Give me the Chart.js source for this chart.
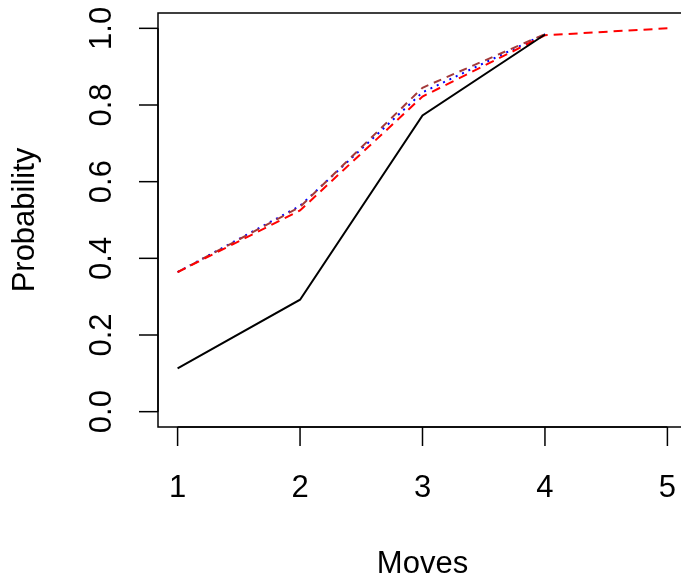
<!DOCTYPE html>
<html>
<head>
<meta charset="utf-8">
<script src="https://cdn.jsdelivr.net/npm/chart.js@4/dist/chart.umd.min.js"></script>
<style>
    html, body { margin: 0; padding: 0; background: #fff; overflow: hidden; }
    #wrap { width: 700px; height: 579px; }
</style>
</head>
<body>
<div id="wrap"><canvas id="grafico" width="700" height="579"></canvas></div>
<script>
//===============================================================
// ========================== DADOS =============================
//===============================================================
const moves = [1, 2, 3, 4, 5];
const xTicks = [1, 2, 3, 4, 5];
const yTicks = [0.0, 0.2, 0.4, 0.6, 0.8, 1.0];

const probPreta = [0.113, 0.292, 0.773, 0.984];
const probVermelha = [0.364, 0.525, 0.822, 0.982, 1.0];
const probAzul = [0.364, 0.537, 0.833, 0.985];
const probMarrom = [0.364, 0.534, 0.845, 0.985];

const fonte = '31px "Liberation Sans", Arial, sans-serif';

function pontos(valores) {
    return valores.map((v, i) => ({ x: moves[i], y: v }));
}

//===============================================================
// ===================== EIXOS ESTILO R =========================
//===============================================================
const eixosR = {
    id: "eixosR",
    afterDraw(chart) {
        const c = chart.ctx;
        const area = chart.chartArea;
        const sx = chart.scales.x;
        const sy = chart.scales.y;

        c.save();
        c.strokeStyle = "#000";
        c.fillStyle = "#000";
        c.lineWidth = 1.5;

        // caixa
        c.strokeRect(area.left, area.top, area.right - area.left, area.bottom - area.top);

        c.font = fonte;

        // eixo x
        const x0 = sx.getPixelForValue(xTicks[0]);
        const x1 = sx.getPixelForValue(xTicks[xTicks.length - 1]);
        c.beginPath();
        c.moveTo(x0, area.bottom);
        c.lineTo(x1, area.bottom);
        c.stroke();
        c.textAlign = "center";
        c.textBaseline = "alphabetic";
        xTicks.forEach(t => {
            const px = sx.getPixelForValue(t);
            c.beginPath();
            c.moveTo(px, area.bottom);
            c.lineTo(px, area.bottom + 19);
            c.stroke();
            c.fillText(String(t), px, 497);
        });

        // eixo y
        const y0 = sy.getPixelForValue(yTicks[0]);
        const y1 = sy.getPixelForValue(yTicks[yTicks.length - 1]);
        c.beginPath();
        c.moveTo(area.left, y0);
        c.lineTo(area.left, y1);
        c.stroke();
        yTicks.forEach(t => {
            const py = sy.getPixelForValue(t);
            c.beginPath();
            c.moveTo(area.left, py);
            c.lineTo(area.left - 19, py);
            c.stroke();
            c.save();
            c.translate(111, py);
            c.rotate(-Math.PI / 2);
            c.fillText(t.toFixed(1), 0, 0);
            c.restore();
        });

        // titulos
        c.fillText("Moves", (area.left + area.right) / 2, 573);
        c.save();
        c.translate(34, (area.top + area.bottom) / 2);
        c.rotate(-Math.PI / 2);
        c.fillText("Probability", 0, 0);
        c.restore();

        c.restore();
    }
};

//===============================================================
// ========================= GRÁFICO ============================
//===============================================================
const ctx = document.getElementById("grafico");

new Chart(ctx, {

    type: "line",

    data: {
        datasets: [
            {
                data: pontos(probPreta),
                borderColor: "#000000",
                borderWidth: 2,
                pointRadius: 0
            },
            {
                data: pontos(probVermelha),
                borderColor: "#ff0000",
                borderWidth: 2,
                borderDash: [9, 6],
                pointRadius: 0
            },
            {
                data: pontos(probMarrom),
                borderColor: "#a33a3a",
                borderWidth: 2,
                borderDash: [8, 6],
                pointRadius: 0
            },
            {
                data: pontos(probAzul),
                borderColor: "#0000ff",
                borderWidth: 2,
                borderDash: [2, 5],
                pointRadius: 0
            }
        ]
    },

    plugins: [eixosR],

    options: {

        responsive: false,

        animation: false,

        layout: {
            padding: { left: 158, top: 13, right: 13, bottom: 152 }
        },

        plugins: {
            legend: { display: false },
            tooltip: { enabled: false }
        },

        scales: {
            x: {
                type: "linear",
                display: false,
                min: 0.84,
                max: 5.16
            },
            y: {
                type: "linear",
                display: false,
                min: -0.04,
                max: 1.04
            }
        }
    }
});
</script>
</body>
</html>
